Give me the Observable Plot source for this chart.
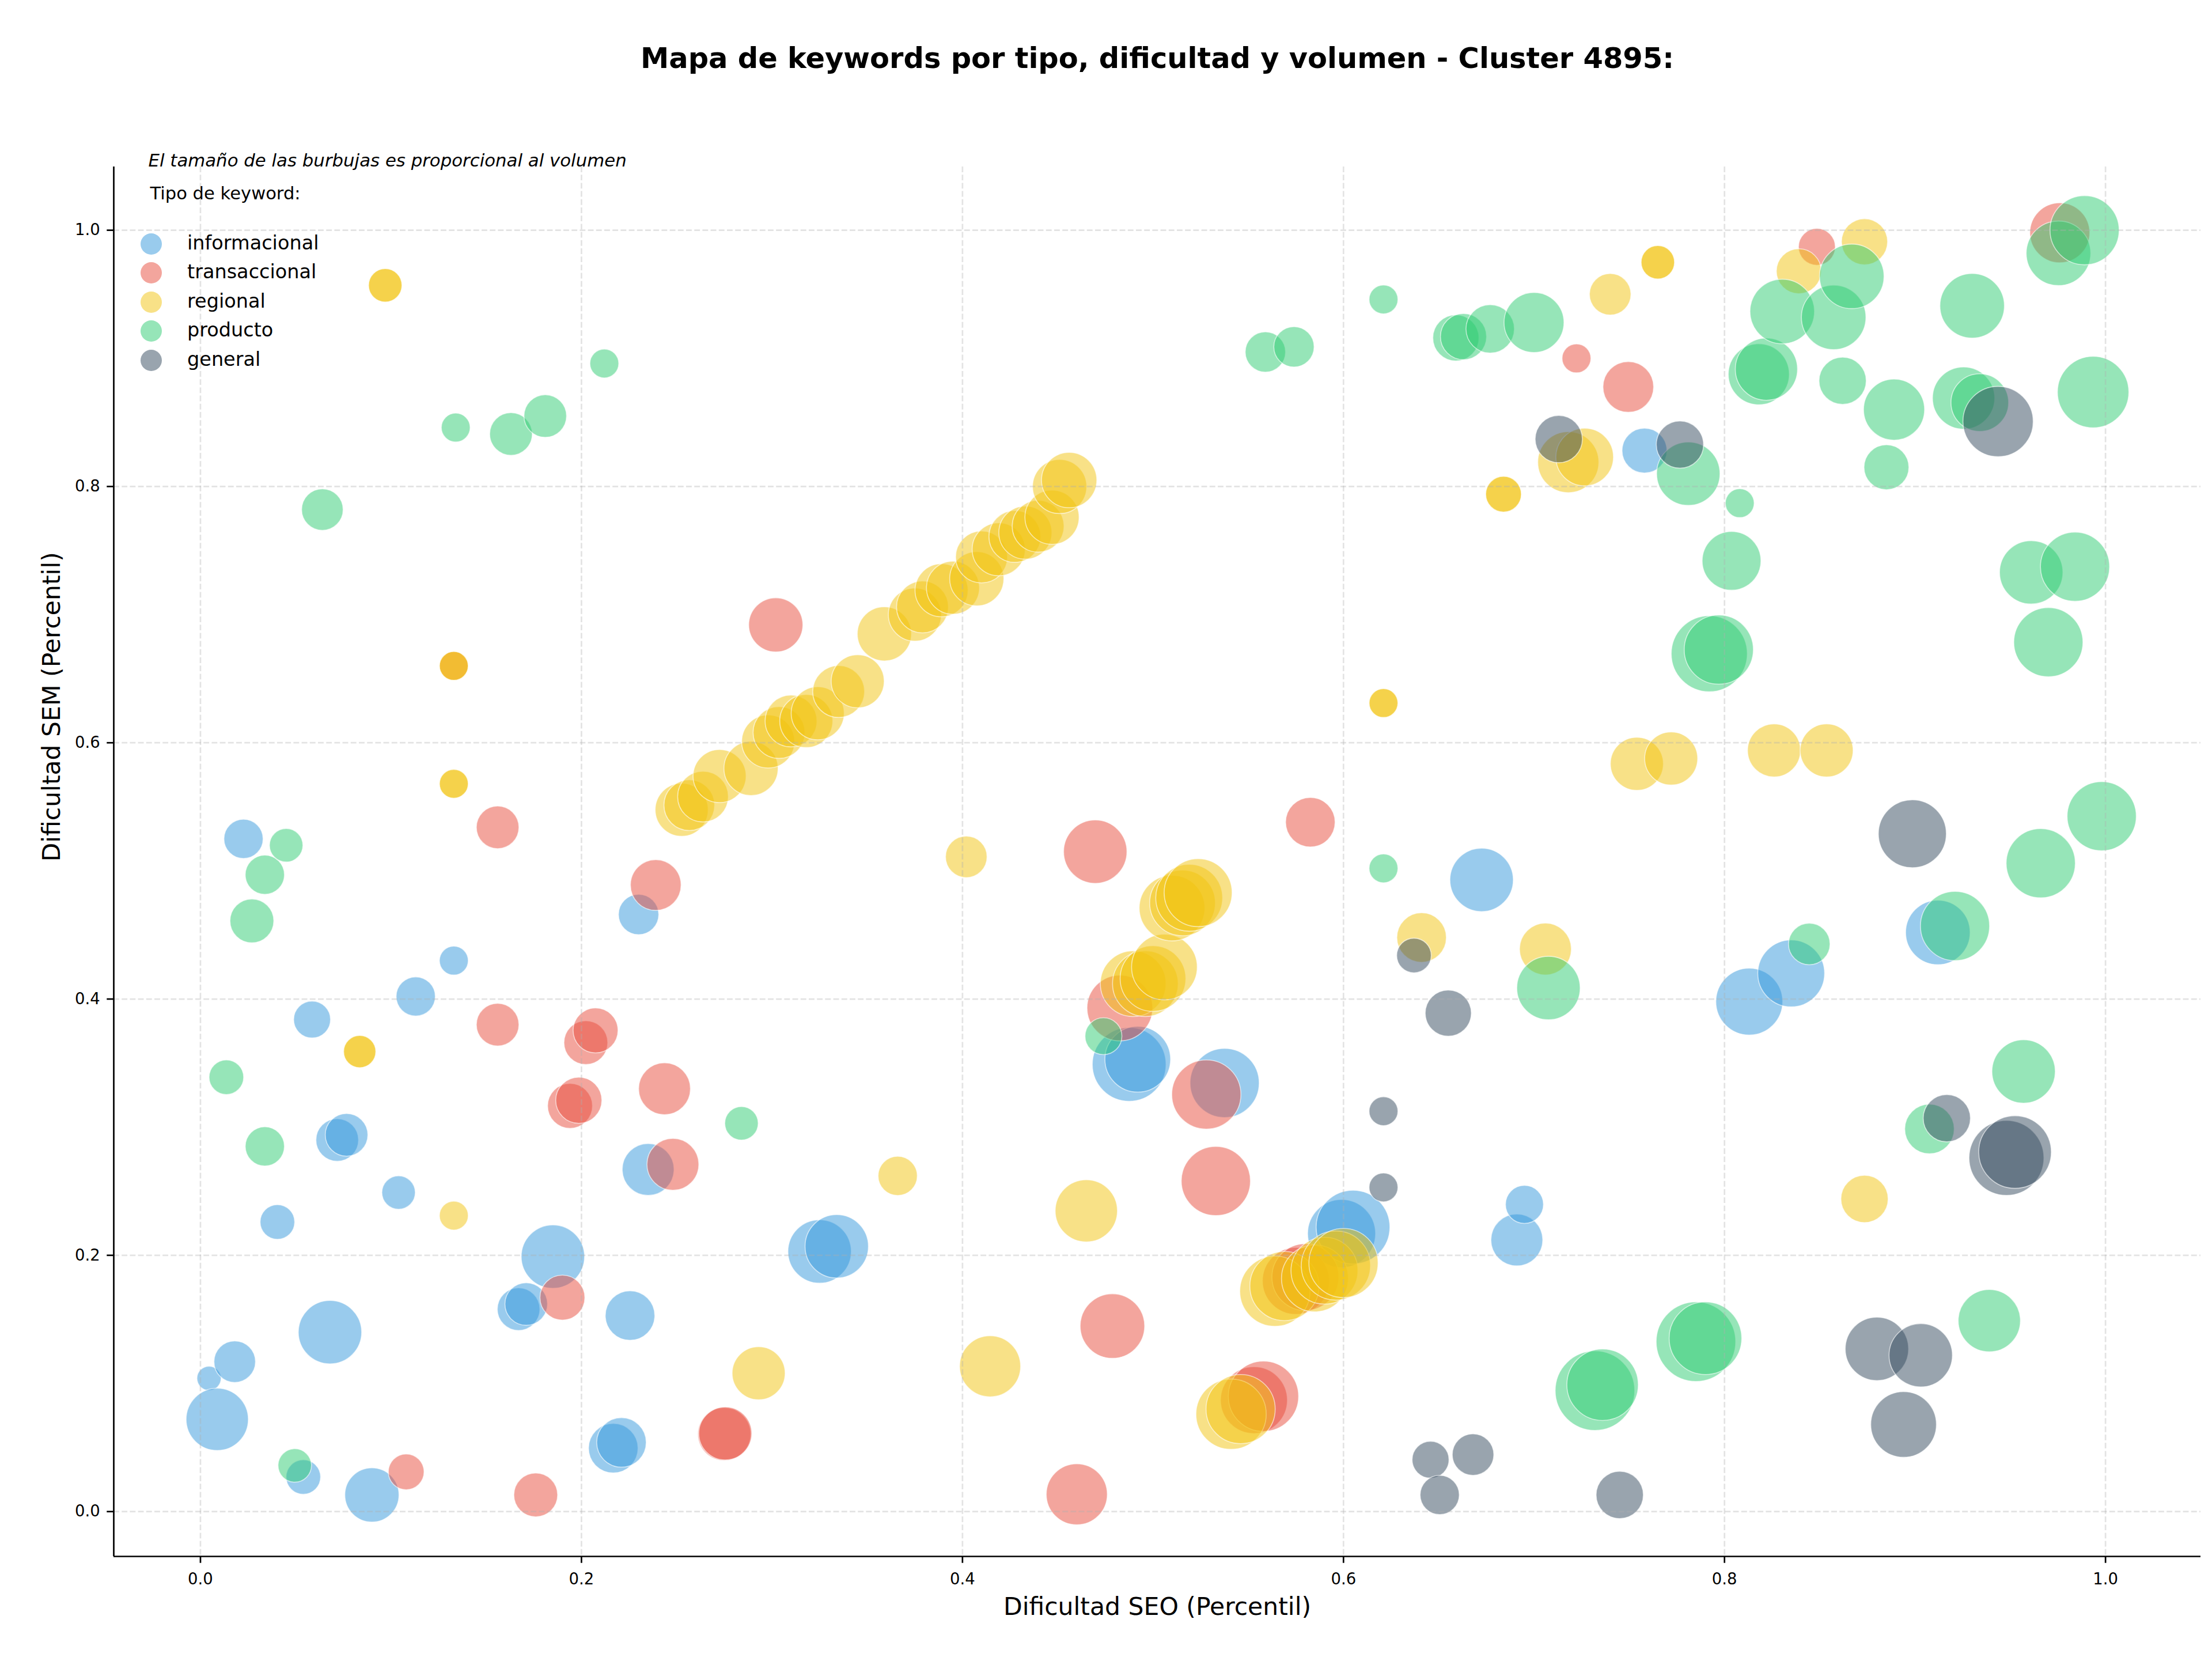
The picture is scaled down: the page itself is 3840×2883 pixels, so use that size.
<!DOCTYPE html>
<html><head><meta charset="utf-8">
<script src="https://cdn.jsdelivr.net/npm/d3@7"></script>
<script src="https://cdn.jsdelivr.net/npm/@observablehq/plot@0.6"></script>
<style>
html,body{margin:0;padding:0;background:#fff;}
#chart{position:relative;width:3840px;height:2883px;font-family:"DejaVu Sans",sans-serif;overflow:hidden;}
#chart svg{position:absolute;left:0;top:0;}
.legtxt{position:absolute;font-size:33.5px;line-height:normal;white-space:nowrap;color:#000;font-family:"DejaVu Sans",sans-serif;}
.legdot{position:absolute;border-radius:50%;}
</style></head><body><div id="chart"></div>
<script>
const titulo = "Mapa de keywords por tipo, dificultad y volumen - Cluster 4895:";
const etiquetaX = "Dificultad SEO (Percentil)";
const etiquetaY = "Dificultad SEM (Percentil)";
const nota = "El tamaño de las burbujas es proporcional al volumen";
const tituloLeyenda = "Tipo de keyword:";
const tipos = ["informacional", "transaccional", "regional", "producto", "general"];
const colores = ["#3498db", "#e74c3c", "#f1c40f", "#2ecc71", "#34495e"];
const ticks = [0, 0.2, 0.4, 0.6, 0.8, 1.0];

// [dificultad SEO, dificultad SEM, volumen]
const informacional = [
[0.0045,0.104,90],[0.0088,0.072,595],[0.018,0.117,265],[0.0226,0.525,236],[0.0404,0.226,184],
[0.054,0.027,184],[0.0586,0.384,209],[0.068,0.140,617],[0.0718,0.290,279],[0.0767,0.294,279],
[0.090,0.013,451],[0.104,0.249,172],[0.113,0.402,236],[0.133,0.430,128],[0.167,0.158,279],
[0.171,0.162,279],[0.185,0.199,617],[0.2167,0.0495,377],[0.221,0.054,377],[0.2255,0.153,377],
[0.230,0.466,250],[0.235,0.267,413],[0.325,0.203,617],[0.334,0.207,617],[0.4875,0.349,836],
[0.492,0.353,663],[0.5376,0.3345,735],[0.599,0.217,710],[0.605,0.222,836],[0.6725,0.493,617],
[0.691,0.212,413],[0.695,0.2397,222],[0.758,0.828,310],[0.813,0.398,687],[0.835,0.420,687],
[0.912,0.452,640]
];
const transaccional = [
[0.108,0.031,196],[0.133,0.660,128],[0.156,0.534,279],[0.156,0.380,279],[0.176,0.013,295],
[0.190,0.167,310],[0.194,0.3166,310],[0.1986,0.321,327],[0.2023,0.366,295],[0.2074,0.3755,310],
[0.239,0.489,395],[0.2436,0.330,413],[0.248,0.271,413],[0.275,0.0605,432],[0.2755,0.061,432],
[0.302,0.692,451],[0.460,0.0135,573],[0.4697,0.515,617],[0.4787,0.1448,640],[0.4826,0.393,663],
[0.528,0.3255,735],[0.533,0.258,735],[0.553,0.087,687],[0.558,0.090,759],[0.575,0.180,687],
[0.580,0.183,687],[0.5826,0.538,377],[0.7223,0.900,128],[0.7495,0.8777,395],[0.8485,0.987,209],
[0.976,0.998,552]
];
const regional = [
[0.0836,0.359,160],[0.0836,0.359,160],[0.097,0.957,172],[0.097,0.957,172],
[0.133,0.660,128],[0.133,0.660,128],[0.133,0.568,128],[0.133,0.568,128],[0.133,0.231,128],
[0.2526,0.5477,432],[0.2566,0.5513,395],[0.2638,0.558,395],[0.2725,0.574,432],[0.289,0.580,451],
[0.298,0.601,432],[0.3037,0.608,413],[0.310,0.617,413],[0.318,0.617,432],[0.324,0.623,432],
[0.335,0.640,413],[0.345,0.648,432],[0.359,0.685,451],[0.375,0.700,432],[0.379,0.706,413],
[0.389,0.719,432],[0.395,0.721,432],[0.4075,0.728,451],[0.410,0.745,413],[0.419,0.751,432],
[0.4275,0.761,413],[0.433,0.764,432],[0.4397,0.769,413],[0.447,0.776,451],[0.451,0.800,451],
[0.456,0.805,470],
[0.293,0.108,432],[0.366,0.262,236],[0.402,0.511,265],[0.4145,0.1134,573],[0.465,0.2347,595],
[0.4896,0.412,663],[0.496,0.412,663],[0.500,0.416,663],[0.506,0.425,663],
[0.510,0.471,663],[0.5155,0.475,663],[0.519,0.479,687],[0.5237,0.483,710],
[0.541,0.076,759],[0.546,0.080,735],
[0.564,0.172,759],[0.569,0.176,735],[0.585,0.182,687],[0.590,0.188,687],[0.596,0.192,735],[0.600,0.194,735],
[0.621,0.631,128],[0.621,0.631,128],[0.641,0.448,377],[0.684,0.794,196],[0.684,0.794,196],
[0.706,0.439,413],[0.718,0.819,573],[0.7266,0.823,510],[0.740,0.950,265],
[0.765,0.975,172],[0.765,0.975,172],[0.754,0.5836,432],[0.772,0.5877,432],
[0.826,0.594,432],[0.8536,0.594,432],[0.839,0.968,310],[0.8735,0.991,327],[0.8735,0.244,343]
];
const producto = [
[0.0136,0.339,184],[0.027,0.461,295],[0.0338,0.497,236],[0.0338,0.285,236],[0.045,0.520,172],
[0.0495,0.036,172],[0.064,0.782,265],[0.134,0.846,128],[0.163,0.841,279],[0.181,0.855,279],
[0.212,0.896,128],[0.284,0.303,172],[0.474,0.371,209],[0.559,0.905,250],[0.574,0.909,250],
[0.621,0.946,128],[0.621,0.502,128],[0.659,0.916,327],[0.663,0.917,327],[0.677,0.923,360],
[0.700,0.928,552],[0.7076,0.4086,617],[0.732,0.0944,972],[0.736,0.099,784],[0.781,0.810,617],
[0.785,0.1326,972],[0.790,0.1353,810],[0.792,0.6695,889],[0.797,0.6727,735],[0.8037,0.742,531],
[0.808,0.787,128],[0.818,0.8876,573],[0.822,0.8916,595],[0.8303,0.9366,640],[0.8445,0.443,265],
[0.8573,0.932,640],[0.862,0.8825,343],[0.8668,0.964,640],[0.885,0.815,310],[0.889,0.860,573],
[0.9076,0.2986,377],[0.921,0.457,735],[0.9255,0.869,595],[0.930,0.941,640],[0.934,0.8655,510],
[0.939,0.149,595],[0.957,0.3435,617],[0.961,0.733,617],[0.966,0.506,735],[0.970,0.6785,735],
[0.9753,0.982,640],[0.984,0.7374,735],[0.989,1.000,735],[0.9935,0.8737,784],[0.998,0.5427,735]
];
const general = [
[0.621,0.3125,128],[0.621,0.253,128],[0.637,0.434,184],[0.6457,0.0405,209],[0.6505,0.013,236],
[0.655,0.389,327],[0.668,0.0445,265],[0.713,0.837,343],[0.745,0.013,343],[0.7766,0.8327,343],
[0.880,0.127,617],[0.894,0.068,663],[0.8986,0.529,710],[0.903,0.122,617],[0.9167,0.307,343],
[0.9436,0.8507,759],[0.948,0.276,862],[0.9525,0.2806,810]
];

const series = [informacional, transaccional, regional, producto, general];
const rows = [];
tipos.forEach((t, i) => series[i].forEach(([x, y, v]) => rows.push({tipo: t, seo: x, sem: y, vol: v})));

const gridStyle = {stroke: "#b0b0b0", strokeOpacity: 0.35, strokeWidth: 2.7, strokeDasharray: "9.9,4.3"};
const xDom = [-0.0455, 1.050];
const yDom = [-0.035, 1.0495];

const svg = Plot.plot({
  width: 3840, height: 2883,
  marginLeft: 197, marginRight: 20, marginTop: 289, marginBottom: 182,
  style: {fontFamily: "'DejaVu Sans', sans-serif", fontSize: "27.5px", background: "white", color: "black", overflow: "visible"},
  x: {domain: xDom},
  y: {domain: yDom},
  r: {type: "sqrt", domain: [0, 1000], range: [0, 70]},
  color: {domain: tipos, range: colores},
  marks: [
    Plot.dot(rows, {x: "seo", y: "sem", r: "vol", fill: "tipo", fillOpacity: 0.5, stroke: "white", strokeOpacity: 0.6, strokeWidth: 1.6, sort: null, clip: true}),
    Plot.gridX(ticks, gridStyle),
    Plot.gridY(ticks, gridStyle),
    Plot.ruleX([xDom[0]], {stroke: "black", strokeWidth: 2.7}),
    Plot.ruleY([yDom[0]], {stroke: "black", strokeWidth: 2.7}),
    Plot.axisX(ticks, {tickFormat: d => d.toFixed(1), tickSize: 11.7, tickPadding: 17, fontSize: 27.5, label: null, strokeWidth: 2.7}),
    Plot.axisY(ticks, {tickFormat: d => d.toFixed(1), tickSize: 11.7, tickPadding: 12, fontSize: 27.5, label: null, strokeWidth: 2.7}),
    Plot.text([titulo], {text: d => d, frameAnchor: "top", lineAnchor: "bottom", dy: -172, fontSize: 49.5, fontWeight: "bold"}),
    Plot.text([etiquetaX], {text: d => d, frameAnchor: "bottom", lineAnchor: "bottom", dy: 101, fontSize: 42.5}),
    Plot.text([etiquetaY], {text: d => d, frameAnchor: "left", lineAnchor: "bottom", rotate: -90, dx: -94, fontSize: 42.5}),
    Plot.text([nota], {text: d => d, frameAnchor: "top-left", textAnchor: "start", lineAnchor: "bottom", dx: 60, dy: -1, fontSize: 30.8, fontStyle: "italic"}),
    Plot.text([tituloLeyenda], {text: d => d, frameAnchor: "top-left", textAnchor: "start", lineAnchor: "bottom", dx: 63, dy: 56, fontSize: 30.6})
  ]
});
const chart = document.getElementById("chart");
chart.appendChild(svg);

// Legend (HTML overlay)
tipos.forEach((t, i) => {
  const cy = 423 + i * 50.5;
  const dot = document.createElement("div");
  dot.className = "legdot";
  dot.style.left = (262 - 18.5) + "px";
  dot.style.top = (cy - 18.5) + "px";
  dot.style.width = "37px";
  dot.style.height = "37px";
  dot.style.background = colores[i];
  dot.style.opacity = 0.5;
  chart.appendChild(dot);
  const txt = document.createElement("div");
  txt.className = "legtxt";
  txt.style.left = "325px";
  txt.style.top = (cy + 10 - 0.928 * 33.5) + "px";
  txt.textContent = t;
  chart.appendChild(txt);
});
</script>
</body></html>
